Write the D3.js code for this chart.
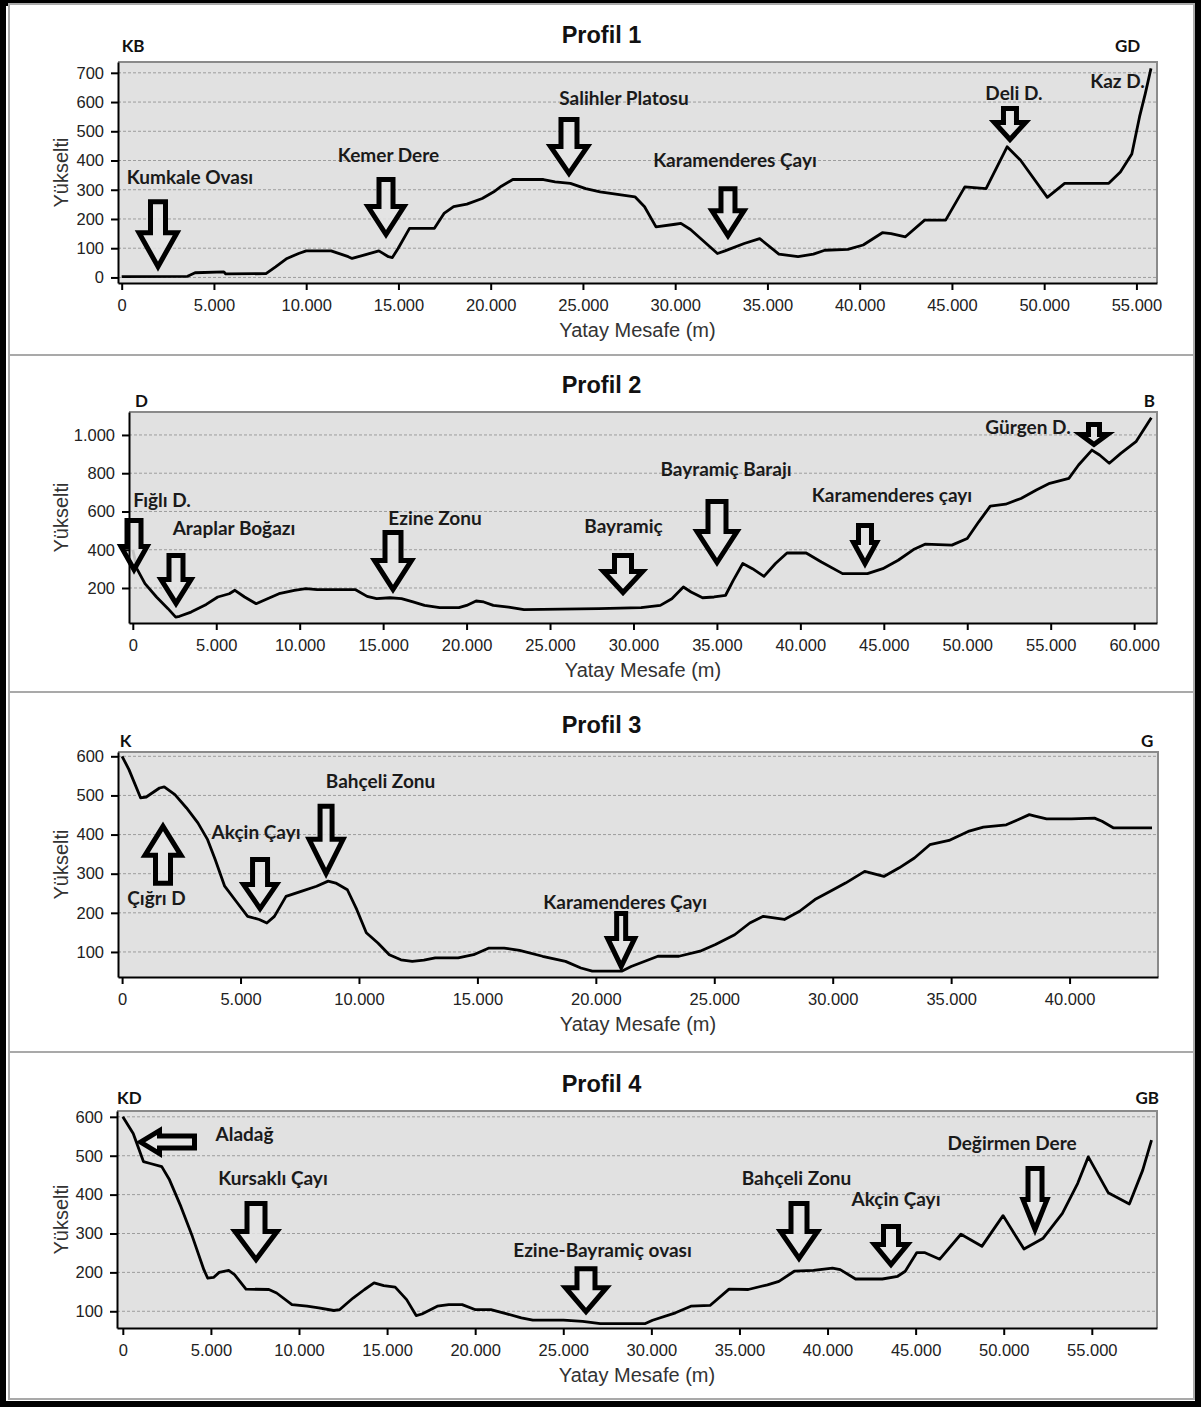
<!DOCTYPE html>
<html>
<head>
<meta charset="utf-8">
<script src="https://cdn.jsdelivr.net/npm/d3@7"></script>
<style>
  body { margin: 0; background: #fff; }
  svg { display: block; }
</style>
</head>
<body>
<svg id="fig" width="1201" height="1407"></svg>
<script>
// ---------- Elevation profiles: [horizontal distance (m), elevation (m)] ----------
const profil1 = [[0,3],[3570,4],[3980,16],[5540,19],[5640,12],[7820,13],[8340,36],[8960,65],[9590,82],[10000,91],
  [11350,91],[12280,71],[12490,65],[13320,80],[13940,91],[14460,71],[14670,68],[14980,99],[15600,168],[16950,168],
  [17470,219],[17990,242],[18710,251],[19540,270],[20170,293],[20580,312],[21200,335],[22860,335],[23490,327],
  [24320,322],[25150,304],[25930,293],[27820,276],[28340,242],[28960,173],[30000,182],[30310,185],[30830,164],
  [32290,82],[32700,91],[33740,116],[34580,133],[35620,80],[36660,71],[37490,80],[38110,93],[39360,96],[40190,111],
  [41230,153],[41700,150],[42480,139],[43520,196],[44660,196],[45700,310],[46850,304],[47990,447],[48720,401],
  [50170,274],[51110,322],[53500,322],[54130,361],[54750,422],[55170,550],[55480,629],[55790,715]];

const profil2 = [[0,400],[250,300],[730,223],[1420,153],[2110,92],[2570,48],[2800,52],[3490,74],[4400,114],
  [5090,153],[5780,170],[6120,188],[6700,153],[7390,118],[8070,144],[8760,170],[9680,188],[10370,197],[11050,191],
  [13350,191],[14040,156],[14610,144],[15410,149],[16100,144],[16790,127],[17480,109],[18390,97],[19540,97],
  [20000,109],[20570,132],[21030,127],[21600,109],[22520,100],[23440,87],[27930,92],[30460,97],[31610,109],
  [32300,144],[32990,205],[33450,179],[34140,149],[34830,153],[35520,162],[35980,240],[36550,328],[37130,301],
  [37820,261],[38510,328],[39200,383],[40350,383],[41260,336],[42530,275],[44020,275],[44940,301],[45860,345],
  [46780,401],[47470,429],[49080,424],[50000,459],[50690,546],[51380,628],[52300,638],[53220,668],[54140,712],
  [54940,747],[56090,773],[56670,843],[57470,921],[57930,895],[58510,852],[59200,904],[60110,965],[61030,1090]];

const profil3 = [[0,600],[290,566],[780,494],[1020,496],[1580,519],[1780,522],[2230,502],[2720,468],[3200,430],
  [3610,387],[3930,336],[4330,268],[4820,229],[5300,191],[5790,183],[6110,174],[6430,191],[6920,242],[7560,255],
  [8210,268],[8700,281],[9020,276],[9510,259],[9910,208],[10310,149],[10800,123],[11280,93],[11770,80],[12250,76],
  [12740,79],[13220,85],[14190,85],[14840,93],[15490,110],[16130,110],[16780,104],[17750,89],[18720,76],[19370,59],
  [19850,51],[21090,51],[21490,63],[22620,89],[23510,89],[24400,102],[25050,119],[25860,144],[26500,174],
  [27070,191],[27300,189],[27960,183],[28600,204],[29250,234],[29900,255],[30540,276],[31350,306],[32160,293],
  [32810,315],[33450,340],[34100,374],[34910,385],[35720,408],[36360,419],[37330,425],[37820,438],[38300,451],
  [38500,448],[39030,440],[40080,440],[41050,442],[41370,434],[41860,417],[43480,417]];

const profil4 = [[0,600],[590,557],[1170,485],[1560,480],[2210,472],[2650,438],[3300,369],[3950,292],[4600,207],
  [4820,185],[5150,187],[5470,200],[6010,205],[6340,194],[6990,157],[8290,156],[8730,147],[9600,117],[10460,113],
  [11120,109],[11980,102],[12300,104],[13070,134],[13720,156],[14260,173],[14810,166],[15460,162],[16110,130],
  [16650,89],[16980,93],[17850,113],[18500,117],[19260,117],[20020,104],[20890,104],[21750,94],[22620,83],
  [23270,77],[25010,77],[26100,74],[27100,68],[29630,68],[30070,77],[31370,96],[32240,113],[33330,115],
  [34410,157],[35500,156],[36590,168],[37240,177],[38110,203],[39200,205],[40280,211],[40720,207],[41590,183],
  [43110,183],[43980,190],[44410,203],[45070,251],[45500,251],[46370,234],[47570,298],[48760,267],[49960,346],
  [51150,260],[52240,288],[53330,352],[54200,429],[54800,497],[55930,405],[57130,376],[57890,463],[58390,540]];

// ---------- Titles, directions, ticks ----------
const titles = ["Profil 1", "Profil 2", "Profil 3", "Profil 4"];
const startDirs = ["KB", "D", "K", "KD"];
const endDirs = ["GD", "B", "G", "GB"];

const yTicks1 = [0, 100, 200, 300, 400, 500, 600, 700];
const yTicks2 = [200, 400, 600, 800, 1000];
const yTicks3 = [100, 200, 300, 400, 500, 600];
const yTicks4 = [100, 200, 300, 400, 500, 600];
const xTicks1 = [0, 5000, 10000, 15000, 20000, 25000, 30000, 35000, 40000, 45000, 50000, 55000];
const xTicks2 = [0, 5000, 10000, 15000, 20000, 25000, 30000, 35000, 40000, 45000, 50000, 55000, 60000];
const xTicks3 = [0, 5000, 10000, 15000, 20000, 25000, 30000, 35000, 40000];
const xTicks4 = [0, 5000, 10000, 15000, 20000, 25000, 30000, 35000, 40000, 45000, 50000, 55000];

const yTitle = "Yükselti";
const xTitle = "Yatay Mesafe (m)";

// ---------- Place names (label centre in [distance, elevation]) ----------
const names1 = [["Kumkale Ovası", 3702, 344], ["Kemer Dere", 14461, 419], ["Salihler Platosu", 27225, 617],
  ["Karamenderes Çayı", 33241, 402], ["Deli D.", 48363, 634], ["Kaz D.", 53973, 675]];
const names2 = [["Fığlı D.", 1749, 660], ["Araplar Boğazı", 6064, 514], ["Ezine Zonu", 18108, 571],
  ["Bayramiç", 29403, 529], ["Bayramiç Barajı", 35545, 827], ["Karamenderes çayı", 45490, 691],
  ["Gürgen D.", 53641, 1042]];
const names3 = [["Çığrı D", 1453, 238], ["Akçin Çayı", 5655, 407], ["Bahçeli Zonu", 10912, 539],
  ["Karamenderes Çayı", 21238, 230]];
const names4 = [["Aladağ", 6907, 558], ["Kursaklı Çayı", 8525, 443], ["Ezine-Bayramiç ovası", 27227, 260],
  ["Bahçeli Zonu", 38238, 445], ["Akçin Çayı", 43886, 391], ["Değirmen Dere", 50470, 535]];

// ---------- Arrow tips [distance, elevation, direction] ----------
const arrows1 = [[1968, 25, "down"], [14326, 135, "down"], [24244, 344, "down"], [32862, 131, "down"], [48146, 460, "down"]];
const arrows2 = [[72, 278, "down"], [2588, 101, "down"], [15591, 174, "down"], [29373, 158, "down"],
  [35005, 315, "down"], [43873, 310, "down"], [57595, 932, "down"]];
const arrows3 = [[1727, 430, "up"], [5824, 202, "down"], [8611, 292, "down"], [21069, 54, "down"]];
const arrows4 = [[805, 535, "left"], [7560, 224, "down"], [26290, 90, "down"], [38380, 227, "down"],
  [43602, 211, "down"], [51776, 301, "down"]];

// Arrow outline sizes in px: [length, shaft width, head width, head length]
const arrowSizes = [
  [[70,20,43,37],[60,19,41,31],[59,21,42,30],[52,19,37,28],[36,18,36,20]],
  [[54,19,31,26],[53,19,35,27],[62,21,42,32],[42,22,44,24],[66,23,45,34],[43,18,28,24],[25,16,32,13]],
  [[62,20,41,32],[54,20,38,27],[72,17,39,37],[58,14,32,31]],
  [[59,17,28,22],[61,23,47,31],[48,23,46,27],[60,21,42,30],[43,20,38,23],[66,19,29,33]]
];

// ---------- Layout ----------
const layout = [
  { box: [9, 4, 1194, 355],    plot: { l: 118, t: 62,   r: 1157, b: 283 },  xDom: [-200, 56115], yDom: [-19, 737], dirY: -17, dirStart: 0,    dirEnd: 55210 },
  { box: [9, 355, 1194, 692],  plot: { l: 129, t: 412,  r: 1157, b: 623 },  xDom: [-228, 61370], yDom: [17, 1120], dirY: -12, dirStart: 131,  dirEnd: 61250 },
  { box: [9, 692, 1194, 1052], plot: { l: 118, t: 752,  r: 1158, b: 977 },  xDom: [-173, 43733], yDom: [36, 611],  dirY: -12, dirStart: -100, dirEnd: 43534 },
  { box: [9, 1052, 1194, 1399],plot: { l: 117, t: 1111, r: 1157, b: 1328 }, xDom: [-330, 58700], yDom: [57, 615],  dirY: -14, dirStart: -330, dirEnd: 58815 }
];

const series = [profil1, profil2, profil3, profil4];
const yTickSets = [yTicks1, yTicks2, yTicks3, yTicks4];
const xTickSets = [xTicks1, xTicks2, xTicks3, xTicks4];
const nameSets = [names1, names2, names3, names4];
const arrowSets = [arrows1, arrows2, arrows3, arrows4];

const trLocale = d3.formatLocale({ decimal: ",", thousands: ".", grouping: [3], currency: ["", ""] });
const fmt = trLocale.format(",d");

const svg = d3.select("#fig");

// outer black frame
svg.append("rect")
  .attr("x", 3).attr("y", 3).attr("width", 1195).attr("height", 1401)
  .attr("fill", "#fff").attr("stroke", "#000").attr("stroke-width", 6);

const labelFont = "Lato, 'Open Sans', sans-serif";
const axisFont = "'Liberation Sans', Arial, sans-serif";

// block arrow pointing down with its tip at (0,0)
function arrowPath(L, w, hw, hl) {
  return `M0,0 L${-hw / 2},${-hl} L${-w / 2},${-hl} L${-w / 2},${-L} L${w / 2},${-L} L${w / 2},${-hl} L${hw / 2},${-hl} Z`;
}
const rot = { down: 0, up: 180, left: 90 };

layout.forEach((lay, i) => {
  const p = lay.plot;
  const g = svg.append("g");

  // panel frame
  g.append("rect")
    .attr("x", lay.box[0]).attr("y", lay.box[1])
    .attr("width", lay.box[2] - lay.box[0]).attr("height", lay.box[3] - lay.box[1])
    .attr("fill", "#fff").attr("stroke", "#a9a9a9").attr("stroke-width", 2);

  const x = d3.scaleLinear().domain(lay.xDom).range([p.l, p.r]);
  const y = d3.scaleLinear().domain(lay.yDom).range([p.b, p.t]);

  // plot background
  g.append("rect")
    .attr("x", p.l).attr("y", p.t).attr("width", p.r - p.l).attr("height", p.b - p.t)
    .attr("fill", "#e1e1e1");

  // horizontal grid
  g.append("g").selectAll("line").data(yTickSets[i]).join("line")
    .attr("x1", p.l).attr("x2", p.r)
    .attr("y1", d => y(d)).attr("y2", d => y(d))
    .attr("stroke", "#9d9d9d").attr("stroke-width", 1).attr("stroke-dasharray", "3,2");

  // top and right plot border
  g.append("path")
    .attr("d", `M${p.l},${p.t} H${p.r} V${p.b}`)
    .attr("fill", "none").attr("stroke", "#8a8a8a").attr("stroke-width", 2);

  // elevation line
  g.append("path")
    .datum(series[i])
    .attr("d", d3.line().x(d => x(d[0])).y(d => y(d[1])))
    .attr("fill", "none").attr("stroke", "#000").attr("stroke-width", 2.8)
    .attr("stroke-linejoin", "round");

  // arrows
  g.append("g").selectAll("path").data(arrowSets[i]).join("path")
    .attr("d", (d, k) => {
      const s = arrowSizes[i][k];
      return arrowPath(s[0] - 5, s[1] - 5, s[2] - 5, s[3] - 3);
    })
    .attr("transform", d => {
      const off = 3.5;
      let tx = x(d[0]), ty = y(d[1]);
      if (d[2] === "down") ty -= off;
      if (d[2] === "up") ty += off;
      if (d[2] === "left") tx += off;
      return `translate(${tx},${ty}) rotate(${rot[d[2]]})`;
    })
    .attr("fill", "#e4e4e4").attr("fill-opacity", 0.85)
    .attr("stroke", "#000").attr("stroke-width", 5).attr("stroke-linejoin", "miter");

  // place names
  g.append("g").selectAll("text").data(nameSets[i]).join("text")
    .attr("x", d => x(d[1])).attr("y", d => y(d[2]))
    .attr("text-anchor", "middle").attr("dominant-baseline", "central")
    .attr("font-family", labelFont).attr("font-weight", 700).attr("font-size", 19)
    .attr("fill", "#1a1a1a")
    .text(d => d[0]);

  // axes
  const yAxis = d3.axisLeft(y).tickValues(yTickSets[i]).tickFormat(fmt).tickSize(7).tickSizeOuter(0).tickPadding(7);
  const xAxis = d3.axisBottom(x).tickValues(xTickSets[i]).tickFormat(fmt).tickSize(7).tickSizeOuter(0).tickPadding(9);

  const ya = g.append("g").attr("transform", `translate(${p.l},0)`).call(yAxis);
  const xa = g.append("g").attr("transform", `translate(0,${p.b})`).call(xAxis);
  [ya, xa].forEach(a => {
    a.select(".domain").attr("stroke", "#000").attr("stroke-width", 2);
    a.selectAll(".tick line").attr("stroke", "#000").attr("stroke-width", 2);
    a.selectAll(".tick text")
      .attr("font-family", axisFont).attr("font-size", 16.5).attr("fill", "#222");
  });

  // axis titles
  g.append("text")
    .attr("transform", `translate(61,${(p.t + p.b) / 2}) rotate(-90)`)
    .attr("text-anchor", "middle").attr("dominant-baseline", "central")
    .attr("font-family", axisFont).attr("font-size", 20).attr("fill", "#333")
    .text(yTitle);
  g.append("text")
    .attr("x", (p.l + p.r) / 2).attr("y", p.b + 47)
    .attr("text-anchor", "middle").attr("dominant-baseline", "central")
    .attr("font-family", axisFont).attr("font-size", 20).attr("fill", "#333")
    .text(xTitle);

  // panel title
  g.append("text")
    .attr("x", (lay.box[0] + lay.box[2]) / 2).attr("y", p.t - 27)
    .attr("text-anchor", "middle").attr("dominant-baseline", "central")
    .attr("font-family", axisFont).attr("font-weight", 700).attr("font-size", 23.5).attr("fill", "#111")
    .text(titles[i]);

  // profile end directions
  g.append("text")
    .attr("x", x(lay.dirStart)).attr("y", p.t + lay.dirY)
    .attr("text-anchor", "start").attr("dominant-baseline", "central")
    .attr("font-family", labelFont).attr("font-weight", 700).attr("font-size", 17).attr("fill", "#111")
    .text(startDirs[i]);
  g.append("text")
    .attr("x", x(lay.dirEnd)).attr("y", p.t + lay.dirY)
    .attr("text-anchor", "end").attr("dominant-baseline", "central")
    .attr("font-family", labelFont).attr("font-weight", 700).attr("font-size", 17).attr("fill", "#111")
    .text(endDirs[i]);
});
</script>
</body>
</html>
